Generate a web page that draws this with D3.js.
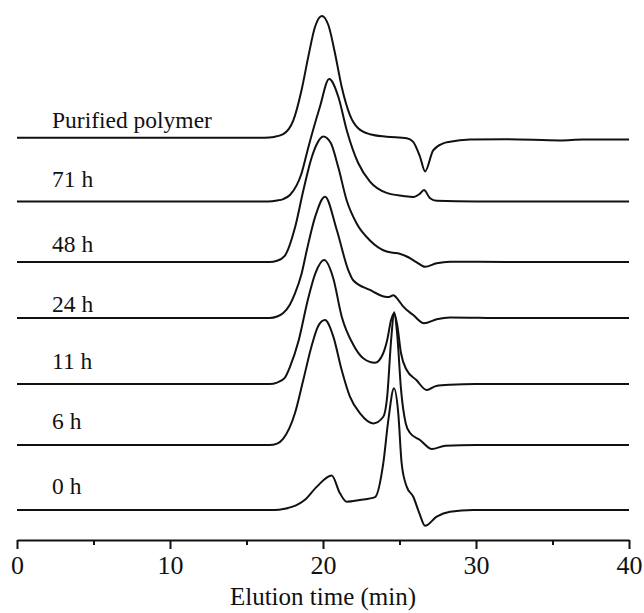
<!DOCTYPE html>
<html>
<head>
<meta charset="utf-8">
<script src="https://cdn.jsdelivr.net/npm/d3@7"></script>
<style>
  html, body { margin: 0; padding: 0; background: #fff; }
  svg { display: block; }
  text { font-family: "Liberation Serif", "Times New Roman", serif; fill: #111; }
</style>
</head>
<body>
<svg id="chart" width="644" height="613"></svg>
<script>
// GPC traces: [elution time (min), normalised detector signal]
const purified = [
  [0,0],[5,0],[10,0],[15,0],[16.2,0],[16.8,0.6],[17.4,2.8],[18.06,14],[18.6,38.8],[19.04,65.9],
  [19.48,90.2],[19.92,99],[20.35,91.6],[20.78,68.9],[21.22,41.4],[21.76,18.4],[22.3,7.6],
  [23.07,2.8],[24.16,0.8],[25.47,-0.5],[25.88,-3.2],[26.34,-15.5],[26.67,-27.4],[27.2,-10.3],
  [27.86,-4.6],[28.3,-3.3],[29.6,-1.5],[32,-1.2],[35.5,-2.2],[37,-1.5],[40,-1.5]
];
const h71 = [
  [0,0],[10,0],[16.4,0],[17.0,0.8],[17.4,2],[17.84,5.3],[18.6,23],[19.04,44],[19.8,77],[20.4,99.6],
  [21.0,85.2],[21.55,58],[22.3,31.3],[23.07,16.2],[24.16,7],[25.25,4.5],[25.9,3.6],[26.3,6],
  [26.6,9.3],[27.0,2.6],[27.43,0.6],[30,0],[40,0]
];
const h48 = [
  [0,0],[10,0],[16.5,0],[17.0,1],[17.5,5],[18.17,28],[18.71,58],[19.26,85],[19.6,96],[20.02,102],
  [20.5,97],[21.0,77],[21.55,50],[22.2,31.3],[23.07,17.5],[24.16,8.5],[24.6,7.5],[25.0,6.8],
  [25.58,3.9],[26.1,0],[26.67,-3.9],[27.43,-1],[28.3,0.3],[32,0],[40,0]
];
const h24 = [
  [0,0],[10,0],[16.5,0],[17.0,1.2],[17.4,4],[17.84,11],[18.17,20],[18.6,36],[18.94,55],[19.48,82],
  [20.13,98.6],[20.9,71.5],[21.65,39],[21.96,30.9],[23.07,22.8],[24.05,17.3],[24.3,17],
  [24.6,18.5],[24.9,15],[25.25,9.2],[25.9,2.4],[26.6,-4.3],[27.43,-1],[28.3,0.5],[32,0],[40,0]
];
const h11 = [
  [0,0],[10,0],[16.5,0],[17.0,1.2],[17.5,5],[17.84,14],[18.4,35],[19.0,68],[19.5,90],[20.08,100.8],
  [20.67,86],[21.22,55],[21.98,32],[22.63,21],[23.4,17.3],[23.9,24],[24.2,36],[24.45,52],
  [24.65,57.5],[24.85,48],[25.1,25],[25.47,11.4],[26.1,3.3],[26.78,-4.9],[27.4,-1.5],
  [28.3,-0.5],[30,0],[40,0]
];
const h6 = [
  [0,0],[10,0],[16.5,0],[17.0,1.2],[17.39,5],[18.17,26],[18.71,52.8],[19.26,80.8],[19.69,96.8],
  [20.13,101.6],[20.67,88.4],[21.22,61],[21.76,39.3],[22.42,25.8],[23.29,17.6],[23.94,23],
  [24.2,40],[24.45,85],[24.65,108],[24.85,90],[25.1,45],[25.4,18],[25.69,9.8],[26.34,4.1],
  [27.12,-3.3],[28,-0.5],[30,0],[40,0]
];
const h0 = [
  [0,0],[10,0],[16.8,0],[17.5,1],[18.2,3.5],[18.8,8.1],[19.6,19],[20.57,28],[21.1,13.8],
  [21.55,6.7],[22.4,8.1],[23.4,10.5],[23.94,38],[24.27,73],[24.64,99],[24.92,78.6],
  [25.14,38],[25.47,19],[25.9,10.8],[26.3,-2.7],[26.67,-12.8],[27.43,-5.4],[28.3,-1.4],
  [29.8,0],[40,0]
];

// stacking order (top to bottom), labels and vertical offsets in signal units
const seriesLabels = ["Purified polymer", "71 h", "48 h", "24 h", "11 h", "6 h", "0 h"];
const seriesData = [purified, h71, h48, h24, h11, h6, h0];
const seriesOffsets = [302.7, 250.8, 201.6, 156.1, 102.4, 52.8, 0];

const xTicks = [0, 10, 20, 30, 40];
const xMinorTicks = [5, 15, 25, 35];
const xTitle = "Elution time (min)";

// layout
const svg = d3.select("#chart");
const x = d3.scaleLinear().domain([0, 40]).range([17, 629]);
const y = d3.scaleLinear().domain([0, 100]).range([510, 387]);
const labelGap = [10, 15, 10, 6, 15, 16, 16];
const axisY = 540;

const line = d3.line()
  .x(d => x(d[0]))
  .y(d => y(d[1]))
  .curve(d3.curveMonotoneX);

const traces = svg.append("g").attr("class", "traces");
seriesData.forEach((s, i) => {
  const off = seriesOffsets[i];
  traces.append("path")
    .datum(s.map(p => [p[0], p[1] + off]))
    .attr("d", line)
    .attr("fill", "none")
    .attr("stroke", "#111")
    .attr("stroke-width", 2)
    .attr("stroke-linejoin", "round");
  svg.append("text")
    .attr("x", 52)
    .attr("y", y(off) - labelGap[i])
    .attr("font-size", 23.5)
    .text(seriesLabels[i]);
});

// x axis with major and minor ticks
const axisMajor = d3.axisBottom(x).tickValues(xTicks).tickSize(9).tickSizeOuter(0).tickPadding(7);
const gx = svg.append("g").attr("transform", `translate(0,${axisY})`).call(axisMajor);
gx.select(".domain").attr("stroke", "#111").attr("stroke-width", 2);
gx.selectAll(".tick line").attr("stroke", "#111").attr("stroke-width", 2);
gx.selectAll(".tick text")
  .attr("font-family", "Liberation Serif, Times New Roman, serif")
  .attr("font-size", 26)
  .attr("fill", "#111");

const axisMinor = d3.axisBottom(x).tickValues(xMinorTicks).tickSize(5).tickSizeOuter(0).tickFormat("");
const gm = svg.append("g").attr("transform", `translate(0,${axisY})`).call(axisMinor);
gm.select(".domain").remove();
gm.selectAll(".tick line").attr("stroke", "#111").attr("stroke-width", 2);

svg.append("text")
  .attr("x", x(20))
  .attr("y", 605)
  .attr("text-anchor", "middle")
  .attr("font-size", 25)
  .text(xTitle);
</script>
</body>
</html>
